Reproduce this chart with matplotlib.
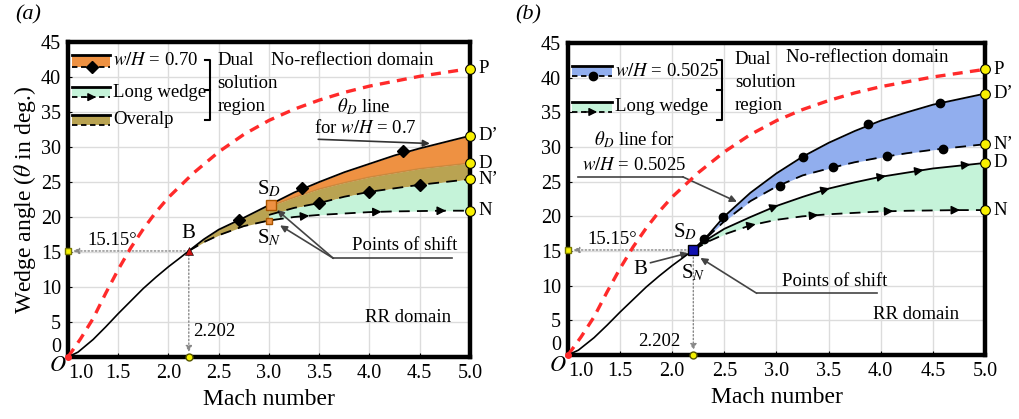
import numpy as np
import matplotlib
matplotlib.use('Agg')
import matplotlib.pyplot as plt
from matplotlib.patches import Rectangle

plt.rcParams['font.family'] = ['Liberation Serif', 'DejaVu Serif']
plt.rcParams['mathtext.fontset'] = 'stix'

# theta_D (detachment) line, red dashed
mach_det = [1.0, 1.125, 1.25, 1.375, 1.5, 1.625, 1.75, 1.875, 2.0, 2.25, 2.5,
            2.75, 3.0, 3.25, 3.5, 3.75, 4.0, 4.5, 5.0]
theta_det = [0, 2.6, 5.5, 9.1, 12.5, 15.6, 18.3, 20.7, 22.8, 26.3, 29.3,
             31.8, 33.8, 35.4, 36.7, 37.8, 38.7, 40.1, 41.2]

# common curve from O to B
mach_low = [1.0, 1.1, 1.25, 1.375, 1.5, 1.625, 1.75, 1.875, 2.0, 2.1, 2.202]
theta_low = [0, 0.7, 2.5, 4.3, 6.2, 8.0, 9.8, 11.4, 12.9, 14.0, 15.15]

# curves after B
mach_hi = [2.202, 2.35, 2.5, 2.75, 3.0, 3.25, 3.5, 3.75, 4.0, 4.25, 4.5, 4.75, 5.0]
long_D = [15.15, 16.8, 18.2, 19.9, 21.5, 22.8, 24.0, 24.9, 25.7, 26.3, 26.9, 27.3, 27.7]
long_N = [15.15, 16.4, 17.4, 18.7, 19.5, 20.0, 20.3, 20.5, 20.7, 20.8, 20.85, 20.9, 20.9]
b_Dp = [15.15, 17.4, 20.0, 23.4, 26.2, 28.6, 30.6, 32.3, 33.8, 35.0, 36.1, 36.9, 37.7]
b_Np = [15.15, 17.2, 19.3, 22.2, 24.3, 25.9, 26.9, 27.8, 28.5, 29.1, 29.6, 30.0, 30.4]
a_Dp = [15.15, 16.8, 18.2, 19.9, 21.7, 23.5, 25.0, 26.4, 27.6, 28.8, 29.8, 30.7, 31.6]

mach_a2 = [3.0, 3.25, 3.5, 3.75, 4.0, 4.25, 4.5, 4.75, 5.0]
a_Np = [20.3, 21.3, 22.0, 22.9, 23.6, 24.1, 24.6, 25.0, 25.4]

# marker positions
a_dia_top_m = [2.7, 3.33, 4.33]
a_dia_top_t = [19.6, 24.1, 29.4]
a_dia_bot_m = [3.5, 4.0, 4.5]
a_dia_bot_t = [22.0, 23.6, 24.6]
b_dot_top_m = [2.3, 2.49, 3.25, 3.88, 4.57]
b_dot_top_t = [16.7, 19.9, 28.6, 33.3, 36.4]
b_dot_bot_m = [3.03, 3.54, 4.06, 4.6]
b_dot_bot_t = [24.4, 27.1, 28.7, 29.7]

arrows_D = [2.99, 3.48, 4.02, 4.38, 4.83]
arrows_N = [2.77, 3.37, 4.09, 4.73]

end_labels_a = ['P', "D\u2019", 'D', "N\u2019", 'N']
end_values_a = [41.2, 31.6, 27.7, 25.4, 20.9]
end_labels_b = ['P', "D\u2019", "N\u2019", 'D', 'N']
end_values_b = [41.2, 37.7, 30.4, 27.7, 20.9]

B_mach, B_theta = 2.202, 15.15

ORANGE = '#ee9142'
OLIVE = '#b9a352'
MINT = '#c5f3d9'
BLUE = '#91aeee'
RED = '#ff2a2a'
FS = 13.5

fig = plt.figure(figsize=(10.2, 4.19), dpi=100)
ax_a = fig.add_axes([68 / 1020, 62 / 419, 402 / 1020, 315 / 419])
ax_b = fig.add_axes([568 / 1020, 64 / 419, 417 / 1020, 312 / 419])


def style_axes(ax):
    ax.set_xlim(1.0, 5.0)
    ax.set_ylim(0, 45)
    ax.set_xticks(np.arange(1.0, 5.01, 0.5))
    ax.set_yticks(np.arange(0, 46, 5))
    ax.set_xticklabels([f'{v:.1f}' for v in np.arange(1.0, 5.01, 0.5)])
    ax.grid(color='#dcdcdc', linewidth=1.0)
    ax.set_axisbelow(True)
    for sp in ax.spines.values():
        sp.set_linewidth(3.2)
    ax.tick_params(direction='in', length=3, labelsize=14.5, pad=5)
    ax.get_xticklabels()[0].set_horizontalalignment('left')
    ax.get_yticklabels()[0].set_verticalalignment('bottom')
    ax.set_xlabel('Mach number', fontsize=17, labelpad=4)


def curve_arrows(ax, mach, theta, positions):
    for m0 in positions:
        y0 = np.interp(m0, mach, theta)
        y1 = np.interp(m0 + 0.03, mach, theta)
        ax.annotate('', xy=(m0 + 0.03, y1), xytext=(m0, y0),
                    arrowprops=dict(arrowstyle='-|>', color='k', lw=1,
                                    mutation_scale=13, shrinkA=0, shrinkB=0))


def legend_row(ax, y_top, y_bot, color, label, marker=None):
    x0, x1 = 0.01, 0.105
    ax.add_patch(Rectangle((x0, y_bot), x1 - x0, y_top - y_bot,
                           transform=ax.transAxes, color=color, lw=0))
    ax.plot([x0, x1], [y_top, y_top], color='k', lw=2, transform=ax.transAxes)
    ax.plot([x0, x1], [y_bot, y_bot], color='k', lw=1.3, ls=(0, (3, 2)),
            transform=ax.transAxes)
    if marker == 'arrow':
        ax.annotate('', xy=(0.07, y_bot), xytext=(0.04, y_bot),
                    xycoords='axes fraction',
                    arrowprops=dict(arrowstyle='-|>', color='k', lw=1,
                                    mutation_scale=12, shrinkA=0, shrinkB=0))
    elif marker is not None:
        ax.plot([0.06], [y_bot], marker=marker, color='k', ms=6,
                transform=ax.transAxes)
    ax.text(x1 + 0.008, (y_top + y_bot) / 2, label, transform=ax.transAxes,
            fontsize=FS, va='center', ha='left')


def bracket(ax, x, y0, y1):
    ax.plot([x - 0.012, x, x, x - 0.012], [y1, y1, y0, y0], color='k', lw=1.5,
            transform=ax.transAxes)
    ax.plot([x - 0.012, x], [(y0 + y1) / 2] * 2, color='k', lw=1.5,
            transform=ax.transAxes)


def dual_text(ax, x, y_top, dy):
    for i, word in enumerate(['Dual', 'solution', 'region']):
        ax.text(x, y_top - i * dy, word, fontsize=FS, va='center', ha='left')


def common(ax):
    # guides to B
    ax.annotate('', xy=(1.05, B_theta), xytext=(B_mach, B_theta),
                arrowprops=dict(arrowstyle='-|>', color='#888888', lw=1,
                                ls=':', mutation_scale=9, shrinkA=0, shrinkB=0))
    ax.annotate('', xy=(B_mach, 0.7), xytext=(B_mach, B_theta),
                arrowprops=dict(arrowstyle='-|>', color='#888888', lw=1,
                                ls=':', mutation_scale=9, shrinkA=0, shrinkB=0))
    ax.plot([1.0], [B_theta], 's', color='#f4f000', mec='#777700', ms=4,
            clip_on=False, zorder=6)
    ax.plot([B_mach], [0], 'o', color='#f4f000', mec='#555500', ms=5,
            clip_on=False, zorder=6)
    ax.plot(mach_det, theta_det, color=RED, lw=2.4, ls=(0, (3, 2.2)), zorder=4)
    ax.plot(mach_low, theta_low, color='k', lw=1.2, zorder=4)
    ax.plot([1.0], [0], 'o', color=RED, ms=4, clip_on=False, zorder=6)


def end_labels(ax, labels, values):
    for lab, v in zip(labels, values):
        ax.plot([5.0], [v], 'o', color='#f8f000', mec='k', mew=0.8, ms=7,
                clip_on=False, zorder=7)
        ax.annotate(lab, xy=(5.0, v), xytext=(6, 0), textcoords='offset points',
                    fontsize=FS, va='center', ha='left',
                    annotation_clip=False)


# ---------------- panel (a)
ax = ax_a
style_axes(ax)
common(ax)
m_hi = np.array(mach_hi)
ld = np.array(long_D)
ln = np.array(long_N)
ad = np.array(a_Dp)
m2 = np.array(mach_a2)
an = np.array(a_Np)
ld2 = np.interp(m2, m_hi, ld)
ln2 = np.interp(m2, m_hi, ln)
ad2 = np.interp(m2, m_hi, ad)
pre = m_hi <= 3.0
ax.fill_between(m_hi[pre], ln[pre], ad[pre], color=OLIVE, lw=0, zorder=2)
ax.fill_between(m2, ld2, ad2, color=ORANGE, lw=0, zorder=2)
ax.fill_between(m2, an, ld2, color=OLIVE, lw=0, zorder=2)
ax.fill_between(m2, ln2, an, color=MINT, lw=0, zorder=2)
ax.plot(m_hi, ad, color='k', lw=1.3, zorder=4)
ax.plot(m_hi[m_hi >= 3.0], ld[m_hi >= 3.0], color='#c9893e', lw=1, zorder=3)
ax.plot(m_hi, ln, color='k', lw=1.3, ls=(0, (6, 4)), zorder=4)
ax.plot(m2, an, color='k', lw=1.3, ls=(0, (6, 4)), zorder=4)
ax.plot(a_dia_top_m, a_dia_top_t, 'D', color='k', ms=6, zorder=5)
ax.plot(a_dia_bot_m, a_dia_bot_t, 'D', color='k', ms=6, zorder=5)
curve_arrows(ax, mach_hi, long_N, arrows_N[1:])
ax.plot([B_mach], [B_theta], '^', color='#d01010', mec='k', mew=0.4, ms=6, zorder=6)
ax.plot([3.02], [21.7], 's', color=ORANGE, mec='#aa5500', ms=7, zorder=6)
ax.plot([3.0], [19.5], 's', color=ORANGE, mec='#aa5500', ms=5, zorder=6)
end_labels(ax, end_labels_a, end_values_a)

legend_row(ax, 0.959, 0.921, ORANGE, r'$w/H$ = 0.70', 'D')
legend_row(ax, 0.857, 0.825, MINT, 'Long wedge', 'arrow')
legend_row(ax, 0.768, 0.737, OLIVE, 'Overalp')
bracket(ax, 0.353, 0.752, 0.943)
dual_text(ax, 2.49, 42.4, 3.3)
ax.text(3.83, 42.4, 'No-reflection domain', fontsize=FS, va='center', ha='center')
ax.text(3.94, 35.7, r'$\theta_D$ line', fontsize=FS, va='center', ha='center')
ax.text(3.96, 32.7, r'for $w/H$ = 0.7', fontsize=FS, va='center', ha='center')
ax.annotate('', xy=(4.6, 30.5), xytext=(3.49, 31.1),
            arrowprops=dict(arrowstyle='-|>', color='#333333', lw=1.2,
                            mutation_scale=10, shrinkA=0, shrinkB=0))
ax.text(4.35, 15.9, 'Points of shift', fontsize=FS, va='center', ha='center')
ax.plot([3.64, 4.82], [14.1, 14.1], color='#444444', lw=1.2)
for tgt in [(3.08, 21.0), (3.11, 18.8)]:
    ax.annotate('', xy=tgt, xytext=(3.64, 14.1),
                arrowprops=dict(arrowstyle='-|>', color='#444444', lw=1.2,
                                mutation_scale=10, shrinkA=0, shrinkB=0))
ax.text(4.38, 5.7, 'RR domain', fontsize=FS, va='center', ha='center')
ax.text(1.44, 16.6, '15.15\u00b0', fontsize=FS, va='center', ha='center')
ax.text(2.46, 3.6, '2.202', fontsize=FS, va='center', ha='center')
ax.text(2.2, 17.6, 'B', fontsize=FS + 1.5, va='center', ha='center')
ax.text(3.0, 24.0, r'S$_D$', fontsize=FS + 1.5, va='center', ha='center')
ax.text(3.0, 17.0, r'S$_N$', fontsize=FS + 1.5, va='center', ha='center')
ax.set_ylabel(r'Wedge angle ($\theta$ in deg.)', fontsize=17, labelpad=2)

# ---------------- panel (b)
ax = ax_b
style_axes(ax)
common(ax)
bd = np.array(b_Dp)
bn = np.array(b_Np)
ax.fill_between(m_hi, bn, bd, color=BLUE, lw=0, zorder=2)
ax.fill_between(m_hi, ln, ld, color=MINT, lw=0, zorder=2)
ax.plot(m_hi, bd, color='k', lw=1.3, zorder=4)
ax.plot(m_hi, bn, color='k', lw=1.3, ls=(0, (6, 4)), zorder=4)
ax.plot(m_hi, ld, color='k', lw=1.3, zorder=4)
ax.plot(m_hi, ln, color='k', lw=1.3, ls=(0, (6, 4)), zorder=4)
ax.plot(b_dot_top_m, b_dot_top_t, 'o', color='k', ms=6, zorder=5)
ax.plot(b_dot_bot_m, b_dot_bot_t, 'o', color='k', ms=6, zorder=5)
curve_arrows(ax, mach_hi, long_D, arrows_D)
curve_arrows(ax, mach_hi, long_N, arrows_N)
ax.plot([B_mach], [B_theta], 's', color='#1010b0', mec='k', ms=7, zorder=6)
end_labels(ax, end_labels_b, end_values_b)

legend_row(ax, 0.926, 0.894, BLUE, r'$w/H$ = 0.5025', 'o')
legend_row(ax, 0.811, 0.779, MINT, 'Long wedge', 'arrow')
bracket(ax, 0.369, 0.753, 0.946)
dual_text(ax, 2.60, 42.6, 3.3)
ax.text(3.87, 42.9, 'No-reflection domain', fontsize=FS, va='center', ha='center')
ax.text(1.64, 31.0, r'$\theta_D$ line for', fontsize=FS, va='center', ha='center')
ax.text(1.63, 27.4, r'$w/H$ = 0.5025', fontsize=FS, va='center', ha='center')
ax.plot([1.10, 2.10], [25.7, 25.7], color='#444444', lw=1.2)
ax.annotate('', xy=(2.62, 22.1), xytext=(2.10, 25.7),
            arrowprops=dict(arrowstyle='-|>', color='#444444', lw=1.2,
                            mutation_scale=10, shrinkA=0, shrinkB=0))
ax.text(3.56, 10.6, 'Points of shift', fontsize=FS, va='center', ha='center')
ax.plot([2.81, 3.96], [8.9, 8.9], color='#444444', lw=1.2)
ax.annotate('', xy=(2.27, 14.0), xytext=(2.81, 8.9),
            arrowprops=dict(arrowstyle='-|>', color='#444444', lw=1.2,
                            mutation_scale=10, shrinkA=0, shrinkB=0))
ax.text(4.34, 5.8, 'RR domain', fontsize=FS, va='center', ha='center')
ax.text(1.42, 16.6, '15.15\u00b0', fontsize=FS, va='center', ha='center')
ax.text(1.88, 1.9, '2.202', fontsize=FS, va='center', ha='center')
ax.text(1.69, 12.4, 'B', fontsize=FS + 1.5, va='center', ha='center')
ax.annotate('', xy=(2.15, 14.7), xytext=(1.79, 13.3),
            arrowprops=dict(arrowstyle='-|>', color='#444444', lw=1.2,
                            mutation_scale=9, shrinkA=0, shrinkB=0))
ax.text(2.12, 17.8, r'S$_D$', fontsize=FS + 1.5, va='center', ha='center')
ax.text(2.2, 11.9, r'S$_N$', fontsize=FS + 1.5, va='center', ha='center')

fig.text(15 / 1020, 1 - 15 / 419, '(a)', fontsize=16, va='center', ha='left',
         style='italic')
fig.text(515 / 1020, 1 - 15 / 419, '(b)', fontsize=16, va='center', ha='left',
         style='italic')
fig.text(58 / 1020, 1 - 366 / 419, r'$O$', fontsize=16, va='center', ha='center')
fig.text(558 / 1020, 1 - 366 / 419, r'$O$', fontsize=16, va='center', ha='center')

fig.savefig('out.png', dpi=100)
